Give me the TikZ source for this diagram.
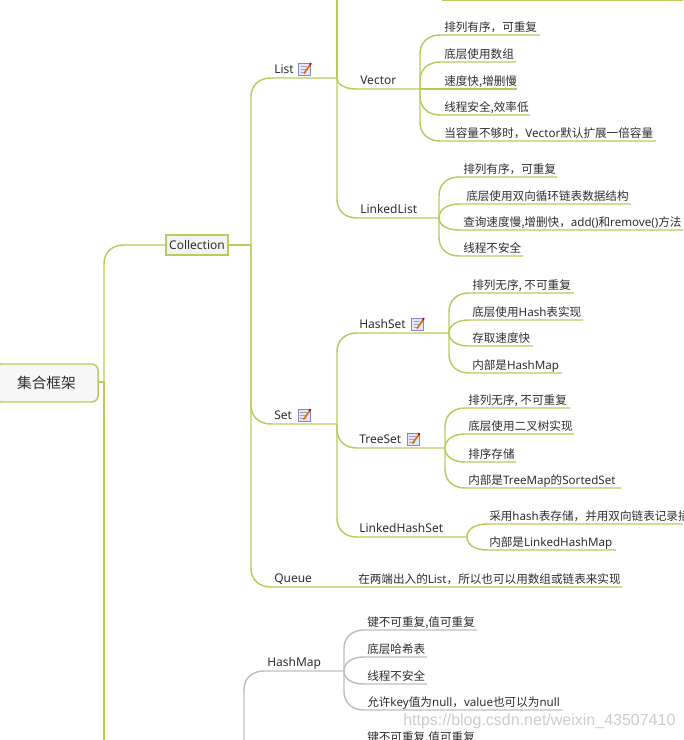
\documentclass[tikz,border=0pt]{standalone}
\usepackage{fontspec}
\usetikzlibrary{calc}
\setmainfont{Noto Sans}
\newfontfamily\cjk{Noto Sans CJK SC}
\newfontfamily\wm{Liberation Sans}
\newcommand{\lat}[1]{{\normalfont #1}}
\definecolor{gbranch}{HTML}{B6CD5C}
\definecolor{graybranch}{HTML}{BEBEBE}
\definecolor{txt}{HTML}{2E2E2E}
\tikzset{
  branch/.style={draw=gbranch,line width=1.1pt},
  label/.style={anchor=base west,inner sep=0pt,text=txt,font=\fontsize{9}{11}\selectfont},
  leaflabel/.style={anchor=base west,inner sep=0pt,text=txt,font=\cjk\fontsize{8.7}{11}\selectfont},
  noteicon/.pic={
    \draw[draw=black!0,fill=white] (-7,-7) rectangle (7,7);
    \draw[draw=blue!35!gray!70,fill=blue!10,line width=.5pt] (-6.5,-6) rectangle (5.5,6.5);
    \draw[gray!70,line width=.4pt] (-4.5,-3) -- (2,-3) (-4.5,0) -- (1,0) (-4.5,3) -- (1,3);
    \draw[orange!85!black,line width=1.2pt] (-1,4.5) -- (5,-4);
    \draw[red!75!black,line width=1.2pt] (5,-4) -- (6,-6);
  }
}
% a branch: vertical from the hub, a smooth bend, then horizontal to the end
\newcommand{\bcurve}[2]{%
  \draw[branch] let \p1=(#1),\p2=(#2),
     \n1={min(abs(\y2-\y1),14pt)},\n2={(\y2>\y1)?1:-1} in
     (\p1) -- ({\x1},{\y2-\n2*\n1})
     .. controls ({\x1},{\y2-\n2*\n1*0.4}) and ({\x1+6pt},{\y2}) .. ({\x1+15pt},{\y2}) -- (\p2);
}
% name, x of underline start, y of underline, x of underline end, hub, text, text x
\newcommand{\leafnode}[7]{%
  \coordinate (#1 e) at (#4,#3);
  \node[leaflabel] (#1) at (#7,#3-4) {#6};
  \bcurve{#5}{#1 e}
}
\begin{document}
\begin{tikzpicture}[x=0.75pt,y=-0.75pt]
\useasboundingbox (0,0) rectangle (683,740);
\clip (0,0) rectangle (683,740);

% hubs
\coordinate (rootHub) at (104,382);
\coordinate (mainEnd) at (104,745);
\coordinate (colHub) at (251,245);
\coordinate (listHub) at (337,78);
\coordinate (listTop) at (337,-5);
\coordinate (setHub) at (337,424);
\coordinate (vecHub) at (420,89);
\coordinate (llHub) at (439,218);
\coordinate (hsHub) at (449,333);
\coordinate (tsHub) at (445,448);
\coordinate (lhsHub) at (467,537);
\coordinate (mapEnd) at (244,745);
\coordinate (hmHub) at (344,671);
\coordinate (topS) at (442,0.5);
\coordinate (topE) at (683,0.5);

% root and Collection
\node[draw=gbranch,line width=1.1pt,rounded corners=5pt,fill=black!3,minimum width=77.5pt,minimum height=28.5pt,inner sep=0pt,text=txt,font=\cjk\fontsize{11}{13}\selectfont] (root) at (46.5,383) {集合框架};
\node[draw=gbranch,line width=1.1pt,fill=green!2!black!5,minimum width=46.5pt,minimum height=15pt,inner sep=0pt,text=txt,font=\fontsize{9}{11}\selectfont] (collection) at (197,245) {Collection};

\draw[branch] (root.east |- rootHub) -- (rootHub);
\bcurve{rootHub}{collection.west}
\draw[branch] (rootHub) -- (mainEnd);
\draw[branch] (collection.east) -- (colHub);

% second level
\node[label] (list) at (274,73) {List};
\bcurve{colHub}{listHub}
\node[label] (set) at (274,419.5) {Set};
\bcurve{colHub}{setHub}
\node[label] (queue) at (274,582.5) {Queue};
\node[leaflabel] (queueLeaf) at (358,583) {在两端出入的\lat{List}，所以也可以用数组或链表来实现};
\coordinate (queueE) at (622,587);
\bcurve{colHub}{queueE}

% List children
\draw[branch] (listTop) -- (listHub);
\node[label] (vector) at (360,84.5) {Vector};
\bcurve{listHub}{vecHub}
\node[label] (linkedlist) at (360,213.5) {LinkedList};
\bcurve{listHub}{llHub}
\draw[branch] (topS) -- (topE);

\leafnode{v1}{443}{35}{540}{vecHub}{排列有序，可重复}{444}
\leafnode{v2}{443}{62}{516}{vecHub}{底层使用数组}{444}
\leafnode{v3}{443}{89}{517}{vecHub}{速度快,增删慢}{444}
\leafnode{v4}{443}{115}{530}{vecHub}{线程安全,效率低}{444}
\leafnode{v5}{443}{141}{656}{vecHub}{当容量不够时，\lat{Vector}默认扩展一倍容量}{444}

\leafnode{l1}{462}{177}{557}{llHub}{排列有序，可重复}{463}
\leafnode{l2}{462}{204}{631}{llHub}{底层使用双向循环链表数据结构}{466}
\leafnode{l3}{462}{230}{684}{llHub}{查询速度慢,增删快，\lat{add()}和\lat{remove()}方法}{463}
\leafnode{l4}{462}{256}{523}{llHub}{线程不安全}{463}

% Set children
\node[label] (hashset) at (359,328.5) {HashSet};
\bcurve{setHub}{hsHub}
\node[label] (treeset) at (359,443.5) {TreeSet};
\bcurve{setHub}{tsHub}
\node[label] (linkedhashset) at (359,532.5) {LinkedHashSet};
\bcurve{setHub}{lhsHub}

\leafnode{hs1}{473}{293}{574}{hsHub}{排列无序, 不可重复}{472}
\leafnode{hs2}{473}{320}{583}{hsHub}{底层使用\lat{Hash}表实现}{472}
\leafnode{hs3}{473}{346}{533}{hsHub}{存取速度快}{472}
\leafnode{hs4}{473}{373}{562}{hsHub}{内部是\lat{HashMap}}{472}

\leafnode{ts1}{468}{408}{570}{tsHub}{排列无序, 不可重复}{468}
\leafnode{ts2}{468}{434}{574}{tsHub}{底层使用二叉树实现}{468}
\leafnode{ts3}{468}{462}{516}{tsHub}{排序存储}{468}
\leafnode{ts4}{468}{488}{621}{tsHub}{内部是\lat{TreeMap}的\lat{SortedSet}}{468}

\leafnode{lh1}{490}{524}{684}{lhsHub}{采用\lat{hash}表存储，并用双向链表记录插}{489}
\leafnode{lh2}{490}{550}{616}{lhsHub}{内部是\lat{LinkedHashMap}}{489}

% Map side
\begin{scope}[branch/.style={draw=graybranch,line width=1.1pt}]
\node[label] (hashmap) at (267,666.5) {HashMap};
\bcurve{mapEnd}{hmHub}
\leafnode{m1}{367}{630}{477}{hmHub}{键不可重复,值可重复}{367}
\leafnode{m2}{367}{657}{427}{hmHub}{底层哈希表}{367}
\leafnode{m3}{367}{684}{427}{hmHub}{线程不安全}{367}
\leafnode{m4}{367}{710}{563}{hmHub}{允许\lat{key}值为\lat{null}，\lat{value}也可以为\lat{null}}{367}
\end{scope}
\node[leaflabel] (t1) at (367,741) {键不可重复,值可重复};

% note icons
\pic at (305,69) {noteicon};
\pic at (304.5,415) {noteicon};
\pic at (418,324) {noteicon};
\pic at (413.5,439) {noteicon};

% watermark
\node[anchor=west,inner sep=0pt,text=black!20,font=\wm\fontsize{12}{14}\selectfont] (mark) at (403,721) {https://blog.csdn.net/weixin\_43507410};
\end{tikzpicture}
\end{document}
